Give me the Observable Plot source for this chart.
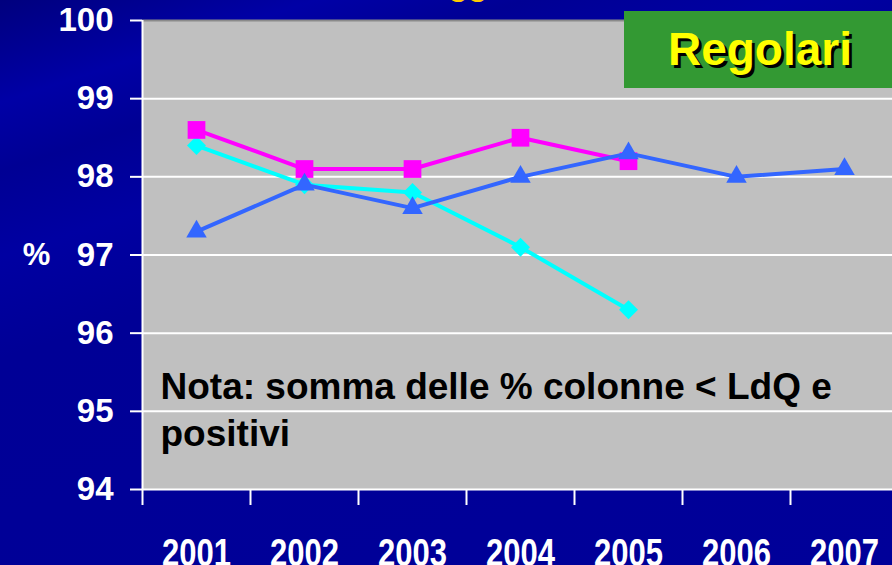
<!DOCTYPE html>
<html><head><meta charset="utf-8">
<script src="https://cdn.jsdelivr.net/npm/d3@7"></script>
<script src="https://cdn.jsdelivr.net/npm/@observablehq/plot@0.6"></script>
<style>
html,body{margin:0;padding:0;background:#000099;overflow:hidden}
#wrap{position:relative;width:892px;height:565px;overflow:hidden;
background:linear-gradient(162deg,#00007e 0%,#0000a6 12%,#000094 20%,#0000a2 30%,#000096 42%,#000099 100%);
font-family:"Liberation Sans",Arial,sans-serif}
#badge{position:absolute;left:624px;top:11px;width:274px;height:77px;background:#339933;
color:#ffff00;font-weight:bold;font-size:46px;text-align:center;line-height:77px;
text-shadow:3px 3px 0 #000;box-sizing:border-box;padding-right:2px}
</style></head><body><div id="wrap"></div>
<script>
const years = [2001, 2002, 2003, 2004, 2005, 2006, 2007];
const yearLabels = ["2001", "2002", "2003", "2004", "2005", "2006", "2007"];
const serieMagenta = [98.6, 98.1, 98.1, 98.5, 98.2];
const serieCiano = [98.4, 97.9, 97.8, 97.1, 96.3];
const serieBlu = [97.3, 97.9, 97.6, 98.0, 98.3, 98.0, 98.1];
const yTicks = [94, 95, 96, 97, 98, 99, 100];
const gridValues = [95, 96, 97, 98, 99];
const yearBounds = [2000.5, 2001.5, 2002.5, 2003.5, 2004.5, 2005.5, 2006.5];
const noteText = "Nota: somma delle % colonne < LdQ e\npositivi";
const badgeText = "Regolari";
const titleText = "legge";
const yLabel = "%";

const toRows = (arr) => arr.map((v, i) => ({year: years[i], value: v}));
const mag = toRows(serieMagenta), cia = toRows(serieCiano), blu = toRows(serieBlu);
const font = {fontWeight: "bold"};

const chart = Plot.plot({
  width: 892, height: 565,
  marginLeft: 142, marginRight: -6, marginTop: 20, marginBottom: 76,
  style: {background: "transparent", color: "white", fontFamily: "'Liberation Sans', Arial, sans-serif", overflow: "hidden"},
  x: {domain: [2000.5, 2007.5], axis: null},
  y: {domain: [94, 100], axis: null},
  marks: [
    Plot.frame({fill: "#c0c0c0", stroke: null}),
    Plot.ruleY(gridValues, {stroke: "white", strokeWidth: 2}),
    Plot.ruleY([100], {stroke: "#8a8a8a", strokeWidth: 2}),
    Plot.ruleY([94], {stroke: "white", strokeWidth: 2}),
    Plot.ruleX([2000.5], {stroke: "white", strokeWidth: 2}),
    Plot.axisY(yTicks, {label: null, tickSize: 12, tickPadding: 17, fontSize: 33, ...font, fill: "white", stroke: "white", strokeWidth: 2, tickFormat: d => String(d)}),
    Plot.axisX(yearBounds, {label: null, tickSize: 16, stroke: "white", strokeWidth: 2, tickFormat: () => ""}),
    Plot.axisX(years, {label: null, tickSize: 0, tickPadding: 48, fontSize: 31, ...font, fill: "white", className: "yearlab", tickFormat: d => yearLabels[years.indexOf(d)]}),
    Plot.line(cia, {x: "year", y: "value", stroke: "#00ffff", strokeWidth: 4}),
    Plot.dot(cia, {x: "year", y: "value", symbol: "square", rotate: 45, r: 7.6, fill: "#00ffff"}),
    Plot.line(mag, {x: "year", y: "value", stroke: "#ff00ff", strokeWidth: 4}),
    Plot.dot(mag, {x: "year", y: "value", symbol: "square", r: 10, fill: "#ff00ff"}),
    Plot.line(blu, {x: "year", y: "value", stroke: "#3366ff", strokeWidth: 4}),
    Plot.dot(blu, {x: "year", y: "value", symbol: "triangle", r: 7.6, fill: "#3366ff"}),
    Plot.text([noteText], {frameAnchor: "top-left", textAnchor: "start", lineAnchor: "top", dx: 18, dy: 345, fontSize: 37, ...font, fill: "black", lineHeight: 1.27}),
    Plot.text([yLabel], {frameAnchor: "left", textAnchor: "middle", dx: -106, fontSize: 31, ...font, fill: "white"}),
    Plot.text([titleText], {frameAnchor: "top", textAnchor: "middle", lineAnchor: "bottom", dx: -57, dy: -26, fontSize: 32, ...font, fill: "#ffcc00"})
  ]
});
// stretch year labels vertically (condensed look of the original)
d3.select(chart).selectAll("g[aria-label='x-axis tick label'] text").each(function() {
  const t = d3.select(this);
  const tr = t.attr("transform");
  if (tr && /translate/.test(tr)) t.attr("transform", tr + " scale(1,1.28)");
});
const wrap = document.getElementById("wrap");
wrap.appendChild(chart);
const badge = document.createElement("div");
badge.id = "badge";
badge.textContent = badgeText;
wrap.appendChild(badge);
</script></body></html>
